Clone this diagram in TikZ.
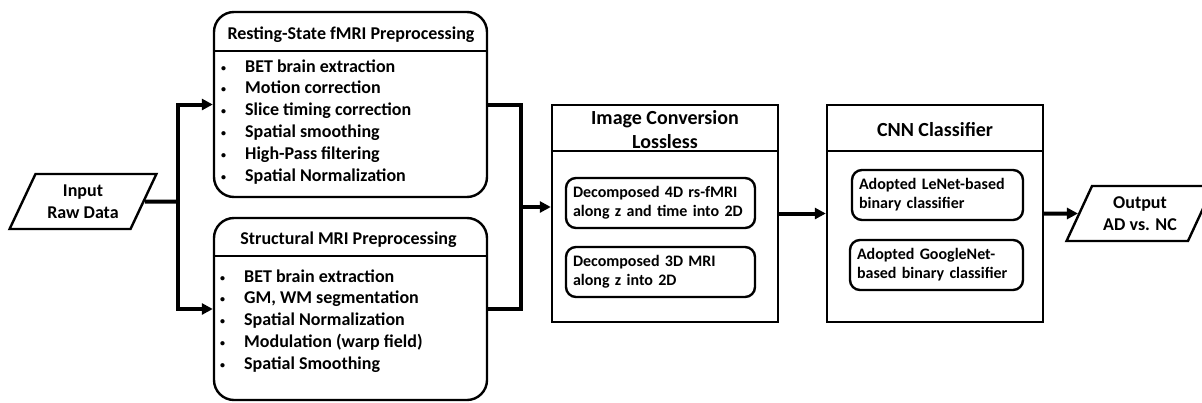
\documentclass[tikz,border=0pt]{standalone}
\usepackage{fontspec}
\setmainfont{Carlito}
\usetikzlibrary{shapes.geometric, arrows.meta, positioning}
\tikzset{>={Triangle[length=11pt,width=11pt]},
stage/.style={draw, line width=2.4pt, rounded corners=20pt, minimum width=273pt},
plainstage/.style={draw, line width=2.4pt, minimum height=217pt},
substep/.style={draw, line width=2.4pt, rounded corners=10pt, align=left, inner xsep=7pt, minimum height=50pt, font=\bfseries\fontsize{16}{19}\selectfont},
io/.style={draw, line width=2.4pt, trapezium, trapezium left angle=62, trapezium right angle=118, trapezium stretches=true, minimum width=147pt, minimum height=55pt, align=center, font=\bfseries\fontsize{18}{21.5}\selectfont},
title/.style={font=\bfseries\fontsize{18}{22}\selectfont, anchor=base, inner sep=0pt},
bigtitle/.style={font=\bfseries\fontsize{20}{24}\selectfont, anchor=base, align=center, inner sep=0pt},
steps/.style={font=\bfseries\fontsize{18}{21.8}\selectfont, align=left, anchor=base west, inner sep=0pt},
flow/.style={line width=4pt},
headline/.style={line width=2.4pt},
}
\newcommand{\bul}{\makebox[26pt][l]{\hspace{2pt}\raisebox{1pt}{\fontsize{10}{10}\selectfont\textbullet}}}

\begin{document}
\begin{tikzpicture}[x=1pt, y=-1pt]
    \useasboundingbox (0,0) rectangle (1202,402);

    \node[io] (input) at (83,201.5) {Input\\Raw Data};

    \node[stage, minimum height=185pt] (rs) at (350.5,104.5) {};
    \node[stage, minimum height=182pt] (smri) at (350.5,309) {};
    \node[plainstage, minimum width=226pt] (conv) at (665,213.5) {};
    \node[plainstage, minimum width=216pt] (cnn) at (935,213.5) {};
    \node[io] (output) at (1140,213.5) {Output\\AD vs. NC};

    \draw[headline] (rs.west |- 0,51) -- (rs.east |- 0,51);
    \draw[headline] (smri.west |- 0,256) -- (smri.east |- 0,256);
    \draw[headline] (conv.west |- 0,151) -- (conv.east |- 0,151);
    \draw[headline] (cnn.west |- 0,151) -- (cnn.east |- 0,151);

    \node[title] (rstitle) at (351,39) {Resting-State fMRI Preprocessing};
    \node[title] (smrititle) at (348.5,244) {Structural MRI Preprocessing};
    \node[bigtitle] (convtitle) at (665,148) {Image Conversion\\Lossless};
    \node[bigtitle] (cnntitle) at (935,136) {CNN Classifier};

    \node[steps] (rslist) at (219,181) {\bul BET brain extraction\\ \bul Motion correction\\
        \bul Slice timing correction\\ \bul Spatial smoothing\\
        \bul High-Pass filtering\\ \bul Spatial Normalization};
    \node[steps] (smrilist) at (218,369.2) {\bul BET brain extraction\\ \bul GM, WM segmentation\\
        \bul Spatial Normalization\\ \bul Modulation (warp field)\\ \bul Spatial Smoothing};

    \node[substep, text width=175pt] (d4) at (660.5,203) {Decomposed 4D rs-fMRI\\along z and time into 2D};
    \node[substep, text width=175pt] (d3) at (660.5,272) {Decomposed 3D MRI\\along z into 2D};
    \node[substep, text width=157pt] (lenet) at (937.5,195) {Adopted LeNet-based\\binary classifier};
    \node[substep, text width=159pt] (gnet) at (936.5,265) {Adopted GoogleNet-\\based binary classifier};

    \coordinate (split) at (178,201.5);
    \coordinate (merge) at (521,207);

    \draw[flow] (input.east) -- (split);
    \draw[flow,->] (split) |- (rs.west);
    \draw[flow,->] (split) |- (smri.west);
    \draw[flow] (rs.east) -| (merge);
    \draw[flow] (smri.east) -| (merge);
    \draw[flow,->] (merge) -- (merge -| conv.west);
    \draw[flow,->] (conv.east) -- (cnn.west);
    \draw[flow,->] (cnn.east) -- (output.west);
\end{tikzpicture}
\end{document}
